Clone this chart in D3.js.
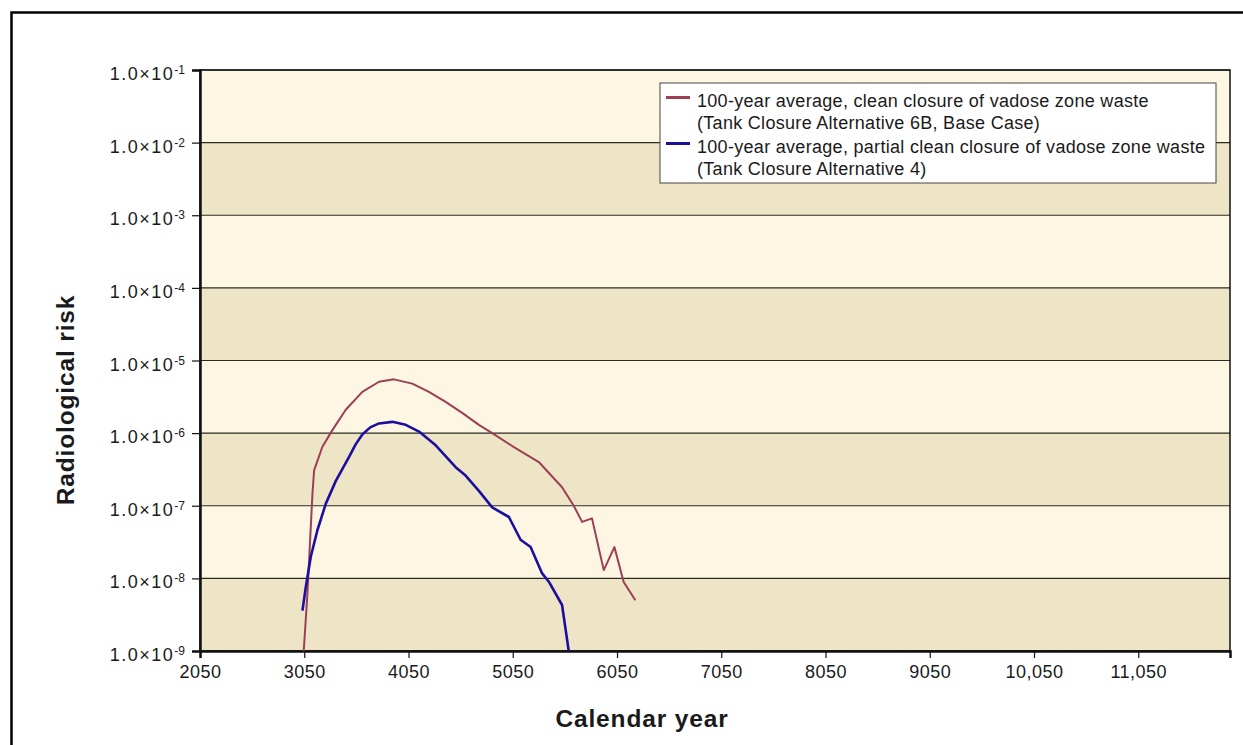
<!DOCTYPE html>
<html>
<head>
<meta charset="utf-8">
<script src="https://cdn.jsdelivr.net/npm/d3@7"></script>
<style>
  body { margin: 0; background: #fff; }
  svg { display: block; font-family: "Liberation Sans", Arial, sans-serif; }
</style>
</head>
<body>
<svg id="chart" width="1243" height="745"></svg>
<script>

// years and values
const cleanYears  = [3045, 3081, 3129, 3145, 3224, 3320, 3448, 3607, 3767, 3911, 4086, 4246, 4406, 4565, 4725, 4853, 5077, 5300, 5523, 5635, 5715, 5810, 5923, 6025, 6114, 6226]
const cleanRisk   = [1.0e-9, 6.3e-9, 1.5e-7, 3.1e-7, 6.5e-7, 1.1e-6, 2.1e-6, 3.7e-6, 5.1e-6, 5.5e-6, 4.8e-6, 3.7e-6, 2.7e-6, 1.9e-6, 1.3e-6, 1.0e-6, 6.2e-7, 4.0e-7, 1.8e-7, 1.0e-7, 6.0e-8, 6.7e-8, 1.3e-8, 2.7e-8, 8.9e-9, 5.0e-9]

const partialYears = [3033, 3065, 3113, 3176, 3257, 3353, 3480, 3543, 3607, 3683, 3767, 3895, 4023, 4151, 4311, 4502, 4598, 4725, 4853, 5013, 5125, 5221, 5332, 5396, 5523, 5587]
const partialRisk  = [3.6e-9, 7.6e-9, 2.0e-8, 4.6e-8, 1.07e-7, 2.2e-7, 4.7e-7, 7.0e-7, 9.6e-7, 1.2e-6, 1.36e-6, 1.43e-6, 1.3e-6, 1.05e-6, 6.8e-7, 3.4e-7, 2.6e-7, 1.6e-7, 9.5e-8, 7.0e-8, 3.4e-8, 2.7e-8, 1.17e-8, 9.0e-9, 4.3e-9, 1.0e-9]

const xTicks = [2050, 3050, 4050, 5050, 6050, 7050, 8050, 9050, 10050, 11050]
const yExponents = [-1, -2, -3, -4, -5, -6, -7, -8, -9]

const seriesNames = [
  ["100-year average, clean closure of vadose zone waste", "(Tank Closure Alternative 6B, Base Case)"],
  ["100-year average, partial clean closure of vadose zone waste", "(Tank Closure Alternative 4)"]
]
const seriesColors = ["#9c3f55", "#1c0fa0"]

const svg = d3.select("#chart")

// outer frame of the figure
svg.append("rect")
    .attr("x", 11.5).attr("y", 12.5)
    .attr("width", 1260).attr("height", 760)
    .attr("fill", "none")
    .attr("stroke", "#000")
    .attr("stroke-width", 2.5)

const plotLeft = 200, plotRight = 1230, plotTop = 70, plotBottom = 651

const x = d3.scaleLinear().domain([2050, 11930]).range([plotLeft, plotRight])
const y = d3.scaleLog().domain([1e-9, 1e-1]).range([plotBottom, plotTop])

// alternating bands between decades
for (var i = 0; i < yExponents.length - 1; i++) {
    var hi = Math.pow(10, yExponents[i]), lo = Math.pow(10, yExponents[i + 1])
    svg.append("rect")
        .attr("x", plotLeft).attr("y", y(hi))
        .attr("width", plotRight - plotLeft).attr("height", y(lo) - y(hi))
        .attr("fill", i % 2 == 0 ? "#fdf6e3" : "#eee5c6")
}

// gridlines
svg.append("g")
    .selectAll("line")
    .data(yExponents)
    .join("line")
    .attr("x1", plotLeft).attr("x2", plotRight)
    .attr("y1", d => y(Math.pow(10, d))).attr("y2", d => y(Math.pow(10, d)))
    .attr("stroke", "#2b2b22")
    .attr("stroke-width", 1.2)

// plot border
svg.append("rect")
    .attr("x", plotLeft).attr("y", plotTop)
    .attr("width", plotRight - plotLeft).attr("height", plotBottom - plotTop)
    .attr("fill", "none")
    .attr("stroke", "#111")
    .attr("stroke-width", 1.5)

const xAxis = svg.append("g")
    .attr("transform", `translate(0,${plotBottom})`)
    .call(d3.axisBottom(x)
        .tickValues(xTicks)
        .tickSize(7)
        .tickFormat(d => d >= 10000 ? d3.format(",")(d) : String(d)))

xAxis.select(".domain").attr("stroke", "#111").attr("stroke-width", 2.5)
xAxis.selectAll(".tick line").attr("stroke", "#111").attr("stroke-width", 1.2)
xAxis.selectAll(".tick text")
    .attr("font-size", 18)
    .attr("letter-spacing", 0.5)
    .attr("fill", "#1a1a1a")
    .attr("dy", 0)
    .attr("y", 27)

const yAxis = svg.append("g")
    .attr("transform", `translate(${plotLeft},0)`)
    .call(d3.axisLeft(y)
        .tickValues(yExponents.map(e => Math.pow(10, e)))
        .tickSize(8)
        .tickFormat(""))

yAxis.select(".domain").attr("stroke", "#111").attr("stroke-width", 2.5)
yAxis.selectAll(".tick line").attr("stroke", "#111").attr("stroke-width", 1.2)

var yLabels = yAxis.selectAll(".tick text")
    .attr("font-size", 18)
    .attr("fill", "#1a1a1a")
    .attr("x", -15)
    .attr("dy", 0)
    .attr("y", 9.5)
    .attr("text-anchor", "end")

yLabels.each(function(d) {
    var t = d3.select(this)
    var e = Math.round(Math.log10(d))
    t.append("tspan").attr("letter-spacing", 1.5).text("1.0\u00d710")
    t.append("tspan").attr("font-size", 12).attr("dy", -6).text(String(e))
})

const line = d3.line()
    .x(d => x(d[0]))
    .y(d => y(d[1]))

const cleanData = cleanYears.map((yr, i) => [yr, cleanRisk[i]])
const partialData = partialYears.map((yr, i) => [yr, partialRisk[i]])

svg.append("path")
    .datum(cleanData)
    .attr("d", line)
    .attr("fill", "none")
    .attr("stroke", seriesColors[0])
    .attr("stroke-width", 2)
    .attr("stroke-linejoin", "round")

svg.append("path")
    .datum(partialData)
    .attr("d", line)
    .attr("fill", "none")
    .attr("stroke", seriesColors[1])
    .attr("stroke-width", 2.6)
    .attr("stroke-linejoin", "round")

// axis titles
svg.append("text")
    .attr("x", 642).attr("y", 727)
    .attr("text-anchor", "middle")
    .attr("font-size", 24.5)
    .attr("letter-spacing", 0.85)
    .attr("font-weight", "bold")
    .attr("fill", "#1a1a1a")
    .text("Calendar year")

svg.append("text")
    .attr("transform", "translate(74,400) rotate(-90)")
    .attr("text-anchor", "middle")
    .attr("font-size", 24.5)
    .attr("letter-spacing", 0.85)
    .attr("font-weight", "bold")
    .attr("fill", "#1a1a1a")
    .text("Radiological risk")

// legend
const legend = svg.append("g").attr("transform", "translate(660,83)")

legend.append("rect")
    .attr("width", 556).attr("height", 100)
    .attr("fill", "#fff")
    .attr("stroke", "#444")
    .attr("stroke-width", 1)

const items = legend.selectAll(".item")
    .data(seriesNames)
    .join("g")
    .attr("class", "item")
    .attr("transform", (d, i) => `translate(0,${i * 46})`)

items.append("line")
    .attr("x1", 6).attr("x2", 30)
    .attr("y1", 14.5).attr("y2", 14.5)
    .attr("stroke", (d, i) => seriesColors[i])
    .attr("stroke-width", 3)

items.append("text")
    .attr("x", 37)
    .attr("font-size", 18)
    .attr("letter-spacing", 0.3)
    .attr("fill", "#1a1a1a")
    .selectAll("tspan")
    .data(d => d)
    .join("tspan")
    .attr("x", 37)
    .attr("y", (d, i) => 23.5 + i * 22)
    .text(d => d)

</script>
</body>
</html>
